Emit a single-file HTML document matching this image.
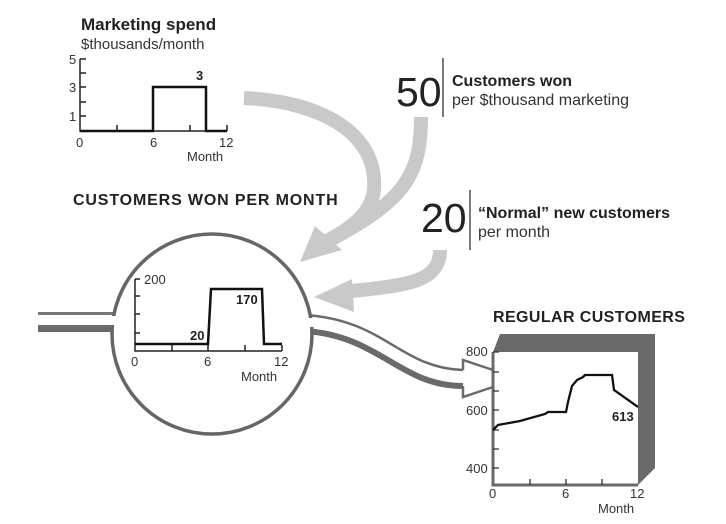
<!DOCTYPE html>
<html><head><meta charset="utf-8"><style>
html,body{margin:0;padding:0;background:#fff;}
svg{display:block;font-family:"Liberation Sans",sans-serif;}
</style></head><body>
<svg width="726" height="524" viewBox="0 0 726 524" xmlns="http://www.w3.org/2000/svg">
<g fill="none" stroke="#c9c9c9" stroke-width="14">
<path d="M244,98 C325,102 378,135 374,190 C371,215 348,230 325,242"/>
<path d="M421,117 C421,175 405,200 330,240"/>
<path d="M440,250 C440,285 400,285 345,292"/>
</g>
<g fill="#c9c9c9">
<polygon points="300,262 315,226 342,250"/>
<polygon points="314,297 352,279 354,312"/>
</g>
<rect x="38" y="312" width="76" height="3" fill="#777"/>
<rect x="38" y="325" width="76" height="7" fill="#6a6a6a"/>
<path d="M305,315 C385,320 400,368 463,370" fill="none" stroke="#6a6a6a" stroke-width="2.5"/>
<path d="M305,331 C380,336 400,386 463,386" fill="none" stroke="#6a6a6a" stroke-width="6"/>
<path d="M463,370 L463,360 L502,373 M463,386 L463,397 L502,384" fill="none" stroke="#6a6a6a" stroke-width="2.5"/>
<circle cx="212" cy="334" r="100" fill="#fff" stroke="#666" stroke-width="3.5"/>
<rect x="106" y="316" width="14" height="9" fill="#fff"/>
<rect x="304" y="318" width="14" height="9" fill="#fff"/>
<g stroke="#222" stroke-width="1.5" fill="none">
<path d="M135,279 L135,351 L282,351"/>
<path d="M135,279 H140 M135,296 H140 M135,314 H140 M135,333 H140"/>
<path d="M172,351 V345 M245,351 V345 M282,351 V345 M208,351 V345"/>
</g>
<path d="M135,344 H208 L211,289 H262 L264,344 H282" fill="none" stroke="#111" stroke-width="2.5"/>
<g font-size="13" fill="#333">
<text x="144" y="284">200</text>
<text x="131" y="366">0</text><text x="204" y="366">6</text><text x="274" y="366">12</text>
<text x="241" y="381">Month</text>
</g>
<text x="236" y="304" font-size="13" font-weight="bold" fill="#222">170</text>
<text x="190" y="340" font-size="13" font-weight="bold" fill="#222">20</text>
<g stroke="#222" stroke-width="1.5" fill="none">
<path d="M80,59 L80,131 L227,131"/>
<path d="M80,59 H86 M80,73 H86 M80,87 H86 M80,102 H86 M80,116 H86"/>
<path d="M117,131 V125 M190,131 V125 M227,131 V125"/>
</g>
<path d="M80,131 H153 V87 H206 V131 H227" fill="none" stroke="#111" stroke-width="2.5"/>
<text x="81" y="30" font-size="17" font-weight="bold" fill="#222">Marketing spend</text>
<text x="81" y="49" font-size="15" fill="#333">$thousands/month</text>
<g font-size="13" fill="#333">
<text x="69" y="64">5</text><text x="69" y="92">3</text><text x="69" y="121">1</text>
<text x="76" y="147">0</text><text x="150" y="147">6</text><text x="219" y="147">12</text>
<text x="187" y="161">Month</text>
</g>
<text x="196" y="80" font-size="13" font-weight="bold" fill="#222">3</text>
<text x="73" y="205" font-size="16" font-weight="bold" fill="#222" letter-spacing="0.85">CUSTOMERS WON PER MONTH</text>
<text x="396" y="106" font-size="41" fill="#222">50</text>
<line x1="443" y1="58" x2="443" y2="117" stroke="#222" stroke-width="1.2"/>
<text x="452" y="86" font-size="16" font-weight="bold" fill="#222">Customers won</text>
<text x="452" y="105" font-size="16" fill="#333">per $thousand marketing</text>
<text x="421" y="232" font-size="41" fill="#222">20</text>
<line x1="470" y1="190" x2="470" y2="250" stroke="#222" stroke-width="1.2"/>
<text x="478" y="218" font-size="16" font-weight="bold" fill="#222">“Normal” new customers</text>
<text x="478" y="237" font-size="16" fill="#333">per month</text>
<text x="493" y="322" font-size="16" font-weight="bold" fill="#222" letter-spacing="0.4">REGULAR CUSTOMERS</text>
<polygon points="493,352 500,334 655,334 655,468 638,485 638,352" fill="#6a6a6a"/>
<rect x="493" y="352" width="145" height="133" fill="#fff"/>
<path d="M493,352 V485 H638" fill="none" stroke="#6a6a6a" stroke-width="3"/>
<g stroke="#333" stroke-width="1.3">
<path d="M493,352 H499 M493,372 H499 M493,391 H499 M493,410 H499 M493,430 H499 M493,449 H499 M493,468 H499"/>
<path d="M530,485 V479 M566,485 V479 M602,485 V479"/>
</g>
<path d="M493,430 L498,425 L520,421 L545,414 L548,412 L566,412 L568,402 L572,386 L577,380 L583,377 L585,375 H612 L614,390 L638,407" fill="none" stroke="#111" stroke-width="2.3"/>
<g font-size="13" fill="#333">
<text x="466" y="356">800</text><text x="466" y="415">600</text><text x="466" y="473">400</text>
<text x="489" y="498">0</text><text x="562" y="498">6</text><text x="630" y="498">12</text>
<text x="598" y="513">Month</text>
</g>
<text x="612" y="421" font-size="13" font-weight="bold" fill="#222">613</text>
</svg>
</body></html>
